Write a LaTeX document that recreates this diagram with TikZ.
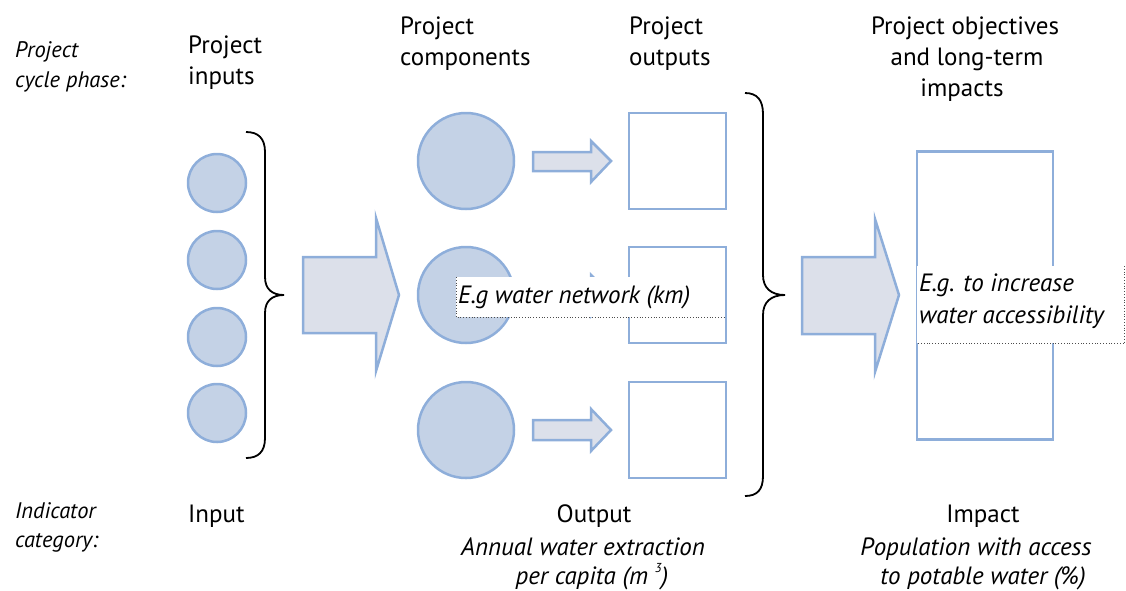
\documentclass[tikz,border=0pt]{standalone}
\usepackage{fontspec}
\setmainfont{PT Sans}
\definecolor{lineblue}{HTML}{8EAEDA}
\definecolor{circfill}{HTML}{C4D2E6}
\definecolor{arrowfill}{HTML}{DCE0EA}
\begin{document}
\begin{tikzpicture}[x=1pt,y=-1pt,
  smallc/.style={circle,draw=lineblue,fill=circfill,line width=2.5pt,minimum size=58pt,inner sep=0pt},
  bigc/.style={circle,draw=lineblue,fill=circfill,line width=2.5pt,minimum size=96pt,inner sep=0pt},
  sqbox/.style={draw=lineblue,fill=white,line width=2.5pt,minimum width=97pt,minimum height=96pt,inner sep=0pt},
  tallbox/.style={draw=lineblue,fill=white,line width=2.5pt,minimum width=136pt,minimum height=288pt,inner sep=0pt},
  blockarrow/.style={draw=lineblue,fill=arrowfill,line width=2.5pt,line join=miter},
  bracepath/.style={draw=black,line width=1.8pt},
  headtxt/.style={font=\fontsize{25}{31}\selectfont,inner sep=0pt},
  smalltxt/.style={font=\fontsize{22.5}{28}\selectfont\itshape,inner sep=0pt},
  exmtxt/.style={font=\fontsize{25}{30}\selectfont\itshape,inner sep=0pt},
  labbox/.style={fill=white,inner sep=0pt},
  dotline/.style={draw=black!70,line width=0.8pt,dotted}
]
\useasboundingbox (0,0) rectangle (1126,590);

% left labels
\node[smalltxt,anchor=base west] (pc1) at (15,57) {Project};
\node[smalltxt,anchor=base west] (pc2) at (15,87) {cycle phase:};
\node[smalltxt,anchor=base west] (ic1) at (15,518) {Indicator};
\node[smalltxt,anchor=base west] (ic2) at (15,547) {category:};

% headings
\node[headtxt,anchor=base west] (h1a) at (188,53) {Project};
\node[headtxt,anchor=base west] (h1b) at (188,84) {inputs};
\node[headtxt,anchor=base west] (h2a) at (400,34) {Project};
\node[headtxt,anchor=base west] (h2b) at (400,65) {components};
\node[headtxt,anchor=base west] (h3a) at (629,34) {Project};
\node[headtxt,anchor=base west] (h3b) at (629,65) {outputs};
\node[headtxt,anchor=base] (h4a) at (965,34) {Project objectives};
\node[headtxt,anchor=base] (h4b) at (967,65) {and long-term};
\node[headtxt,anchor=base] (h4c) at (962,96) {impacts};

% input circles
\node[smallc] (i1) at (217,183) {};
\node[smallc] (i2) at (217,260) {};
\node[smallc] (i3) at (217,337) {};
\node[smallc] (i4) at (217,413) {};

% left brace
\draw[bracepath] (246,132) .. controls (258,132) and (265,138) .. (265,152)
  -- (265,277) .. controls (265,289) and (272,295) .. (284,295)
  .. controls (272,295) and (265,301) .. (265,313)
  -- (265,438) .. controls (265,452) and (258,458) .. (246,458);

% big arrow 1
\draw[blockarrow] (303,257) -- (376,257) -- (376,218) -- (399,295) -- (376,371) -- (376,333) -- (303,333) -- cycle;

% component circles
\node[bigc] (c1) at (466,161) {};
\node[bigc] (c2) at (466,295) {};
\node[bigc] (c3) at (466,430) {};

% small arrows
\draw[blockarrow] (533,152) -- (591,152) -- (591,141) -- (611,161) -- (591,182) -- (591,171) -- (533,171) -- cycle;
\draw[blockarrow] (533,286) -- (591,286) -- (591,275) -- (611,295) -- (591,316) -- (591,305) -- (533,305) -- cycle;
\draw[blockarrow] (533,420) -- (591,420) -- (591,409) -- (611,430) -- (591,451) -- (591,440) -- (533,440) -- cycle;

% output squares
\node[sqbox] (o1) at (677.5,161) {};
\node[sqbox] (o2) at (677.5,295) {};
\node[sqbox] (o3) at (677.5,430) {};

% right brace
\draw[bracepath] (745,93) .. controls (757,93) and (763,100) .. (763,114)
  -- (763,275) .. controls (763,288) and (771,295) .. (785,295)
  .. controls (771,295) and (763,302) .. (763,315)
  -- (763,476) .. controls (763,490) and (757,496) .. (745,496);

% big arrow 2
\draw[blockarrow] (802,257) -- (875,257) -- (875,219) -- (899,295) -- (875,372) -- (875,334) -- (802,334) -- cycle;

% impact box
\node[tallbox] (imp) at (985,295.5) {};

% example label 1
\node[labbox,minimum width=269pt,minimum height=40pt,anchor=north west] (lab1) at (456,277) {};
\node[exmtxt,anchor=base west] (lab1t) at (458,303) {E.g water network (km)};
\draw[dotline] (lab1.north west) -- (lab1.south west) -- (lab1.south east);

% example label 2
\node[labbox,minimum width=207pt,minimum height=77pt,anchor=north west] (lab2) at (917,266) {};
\node[exmtxt,anchor=base west] (lab2a) at (919,291) {E.g. to increase};
\node[exmtxt,anchor=base west] (lab2b) at (919,323) {water accessibility};
\draw[dotline] (lab2.north east) -- (lab2.south east) -- (lab2.south west);

% bottom labels
\node[headtxt,anchor=base west] (b1) at (188,522) {Input};
\node[headtxt,anchor=base] (b2) at (594,522) {Output};
\node[exmtxt,anchor=base] (b2a) at (583,555) {Annual water extraction};
\node[exmtxt,anchor=base] (b2b) at (592,584) {per capita (m \raisebox{0.45em}{\fontsize{13}{13}\selectfont 3})};
\node[headtxt,anchor=base] (b3) at (983,522) {Impact};
\node[exmtxt,anchor=base] (b3a) at (976,555) {Population with access};
\node[exmtxt,anchor=base] (b3b) at (983,584) {to potable water (\%)};
\end{tikzpicture}
\end{document}
